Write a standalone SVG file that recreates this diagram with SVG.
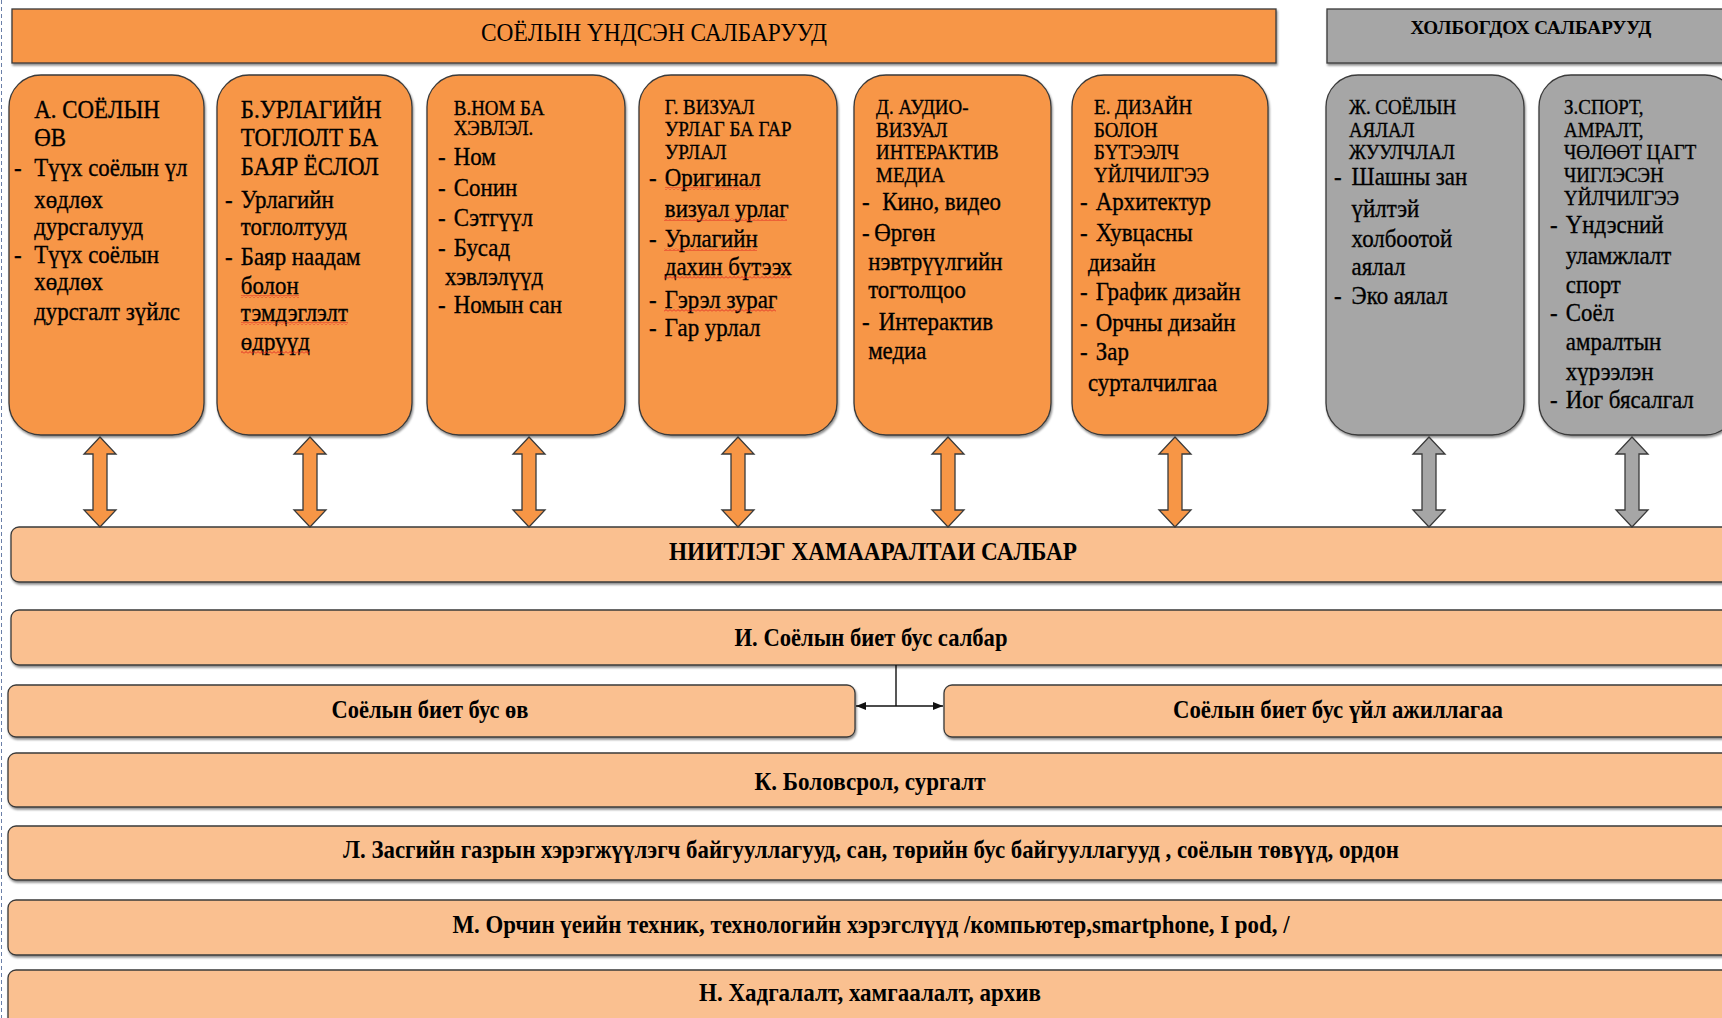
<svg xmlns="http://www.w3.org/2000/svg" width="1722" height="1018" viewBox="0 0 1722 1018">
<style>
.o{fill:#F79646;stroke:#3a3a3a;stroke-width:1.3}
.g{fill:#A6A6A6;stroke:#3a3a3a;stroke-width:1.3}
.l{fill:#FAC090;stroke:#3a3a3a;stroke-width:1.3}
text{font-family:"Liberation Serif","Times New Roman",serif;fill:#000}
.t text{stroke:#000;stroke-width:0.35}
.t{font-size:26px}
.s{font-size:21.5px}
.b{font-weight:bold;font-size:25px;text-anchor:middle}
.sq{fill:url(#sq)}
.ln{stroke:#111;stroke-width:1.4;fill:none}
</style>
<defs>
<filter id="sh" x="-5%" y="-20%" width="110%" height="150%">
<feDropShadow dx="1" dy="2" stdDeviation="1" flood-color="#000" flood-opacity="0.45"/>
</filter>
<pattern id="sq" width="4" height="3" patternUnits="userSpaceOnUse">
<path d="M0,2.5 L2,0.5 L4,2.5" fill="none" stroke="#e02020" stroke-width="0.9"/>
</pattern>
<marker id="ah" viewBox="0 0 10 8" refX="10" refY="4" markerWidth="10" markerHeight="8" markerUnits="userSpaceOnUse" orient="auto-start-reverse">
<path d="M0,0 L10,4 L0,8 z" fill="#111"/>
</marker>
</defs>
<rect width="1722" height="1018" fill="#fff"/>
<line x1="1.5" y1="0" x2="1.5" y2="1018" stroke="#6a7fa8" stroke-width="1" stroke-dasharray="4 3"/>

<g id="title">
<rect class="o" x="12" y="9" width="1264" height="54" stroke-width="1.8" filter="url(#sh)"/>
<text class="t" x="654" y="41" text-anchor="middle" textLength="346" lengthAdjust="spacingAndGlyphs">СОЁЛЫН ҮНДСЭН САЛБАРУУД</text>
</g>
<g id="related-header">
<rect class="g" x="1327" y="9" width="420" height="54" stroke-width="1.8" filter="url(#sh)"/>
<text x="1531" y="34" text-anchor="middle" font-size="19" font-weight="bold" textLength="241" lengthAdjust="spacingAndGlyphs">ХОЛБОГДОХ САЛБАРУУД</text>
</g>

<g id="node-a">
<rect class="o" x="9" y="75" width="195" height="360" rx="32" filter="url(#sh)"/>
<g class="t" transform="translate(14,0) scale(0.88,1)">
<text x="23" y="118">А. СОЁЛЫН</text>
<text x="23" y="146">ӨВ</text>
<text y="176"><tspan x="0">-</tspan><tspan x="23">Түүх соёлын үл</tspan></text>
<text x="23" y="208">хөдлөх</text>
<text x="23" y="235">дурсгалууд</text>
<text y="263"><tspan x="0">-</tspan><tspan x="23">Түүх соёлын</tspan></text>
<text x="23" y="290">хөдлөх</text>
<text x="23" y="320">дурсгалт зүйлс</text>
</g>
</g>

<g id="node-b">
<rect class="o" x="217" y="75" width="195" height="360" rx="32" filter="url(#sh)"/>
<g class="t" transform="translate(225,0) scale(0.88,1)">
<text x="18" y="118">Б.УРЛАГИЙН</text>
<text x="18" y="146">ТОГЛОЛТ БА</text>
<text x="18" y="175">БАЯР ЁСЛОЛ</text>
<text y="208"><tspan x="0">-</tspan><tspan x="18">Урлагийн</tspan></text>
<text x="18" y="235">тоглолтууд</text>
<text y="265"><tspan x="0">-</tspan><tspan x="18">Баяр наадам</tspan></text>
<text x="18" y="294">болон</text>
<text x="18" y="321">тэмдэглэлт</text>
<text x="18" y="350">өдрүүд</text>
</g>
<rect class="sq" x="241" y="295" width="58" height="3"/>
<rect class="sq" x="241" y="322" width="107" height="3"/>
<rect class="sq" x="241" y="351" width="69" height="3"/>
</g>

<g id="node-v">
<rect class="o" x="427" y="75" width="198" height="360" rx="32" filter="url(#sh)"/>
<g class="t" transform="translate(438,0) scale(0.88,1)">
<text class="s" x="18" y="115">В.НОМ БА</text>
<text class="s" x="18" y="135">ХЭВЛЭЛ.</text>
<text y="165"><tspan x="0">-</tspan><tspan x="18">Ном</tspan></text>
<text y="196"><tspan x="0">-</tspan><tspan x="18">Сонин</tspan></text>
<text y="226"><tspan x="0">-</tspan><tspan x="18">Сэтгүүл</tspan></text>
<text y="256"><tspan x="0">-</tspan><tspan x="18">Бусад</tspan></text>
<text x="8" y="285">хэвлэлүүд</text>
<text y="313"><tspan x="0">-</tspan><tspan x="18">Номын сан</tspan></text>
</g>
</g>

<g id="node-g">
<rect class="o" x="639" y="75" width="198" height="360" rx="32" filter="url(#sh)"/>
<g class="t" transform="translate(649,0) scale(0.88,1)">
<text class="s" x="18" y="114">Г. ВИЗУАЛ</text>
<text class="s" x="18" y="136">УРЛАГ БА ГАР</text>
<text class="s" x="18" y="159">УРЛАЛ</text>
<text y="186"><tspan x="0">-</tspan><tspan x="18">Оригинал</tspan></text>
<text x="18" y="217">визуал урлаг</text>
<text y="247"><tspan x="0">-</tspan><tspan x="18">Урлагийн</tspan></text>
<text x="18" y="275">дахин бүтээх</text>
<text y="308"><tspan x="0">-</tspan><tspan x="18">Гэрэл зураг</tspan></text>
<text y="336"><tspan x="0">-</tspan><tspan x="18">Гар урлал</tspan></text>
</g>
<rect class="sq" x="665" y="187" width="95" height="3"/>
<rect class="sq" x="664" y="218" width="123" height="3"/>
<rect class="sq" x="664" y="248" width="93" height="3"/>
<rect class="sq" x="664" y="276" width="126" height="3"/>
<rect class="sq" x="664" y="309" width="112" height="3"/>
</g>

<g id="node-d">
<rect class="o" x="854" y="75" width="197" height="360" rx="32" filter="url(#sh)"/>
<g class="t" transform="translate(862,0) scale(0.88,1)">
<text class="s" x="16" y="114">Д. АУДИО-</text>
<text class="s" x="16" y="137">ВИЗУАЛ</text>
<text class="s" x="16" y="159">ИНТЕРАКТИВ</text>
<text class="s" x="16" y="182">МЕДИА</text>
<text y="210"><tspan x="0">-</tspan><tspan x="23">Кино, видео</tspan></text>
<text y="241"><tspan x="0">-</tspan><tspan x="14">Өргөн</tspan></text>
<text x="7" y="270">нэвтрүүлгийн</text>
<text x="7" y="298">тогтолцоо</text>
<text y="330"><tspan x="0">-</tspan><tspan x="19">Интерактив</tspan></text>
<text x="7" y="359">медиа</text>
</g>
</g>

<g id="node-e">
<rect class="o" x="1072" y="75" width="196" height="360" rx="32" filter="url(#sh)"/>
<g class="t" transform="translate(1080,0) scale(0.88,1)">
<text class="s" x="16" y="114">Е. ДИЗАЙН</text>
<text class="s" x="16" y="137">БОЛОН</text>
<text class="s" x="16" y="159">БҮТЭЭЛЧ</text>
<text class="s" x="16" y="182">ҮЙЛЧИЛГЭЭ</text>
<text y="210"><tspan x="0">-</tspan><tspan x="18">Архитектур</tspan></text>
<text y="241"><tspan x="0">-</tspan><tspan x="18">Хувцасны</tspan></text>
<text x="9" y="271">дизайн</text>
<text y="300"><tspan x="0">-</tspan><tspan x="18">График дизайн</tspan></text>
<text y="331"><tspan x="0">-</tspan><tspan x="18">Орчны дизайн</tspan></text>
<text y="360"><tspan x="0">-</tspan><tspan x="18">Зар</tspan></text>
<text x="9" y="391">сурталчилгаа</text>
</g>
</g>

<g id="node-zh">
<rect class="g" x="1326" y="75" width="198" height="360" rx="32" filter="url(#sh)"/>
<g class="t" transform="translate(1334,0) scale(0.88,1)">
<text class="s" x="17" y="114">Ж. СОЁЛЫН</text>
<text class="s" x="17" y="137">АЯЛАЛ</text>
<text class="s" x="17" y="159">ЖУУЛЧЛАЛ</text>
<text y="185"><tspan x="0">-</tspan><tspan x="20">Шашны зан</tspan></text>
<text x="20" y="217">үйлтэй</text>
<text x="20" y="247">холбоотой</text>
<text x="20" y="275">аялал</text>
<text y="304"><tspan x="0">-</tspan><tspan x="20">Эко аялал</tspan></text>
</g>
</g>

<g id="node-z">
<rect class="g" x="1539" y="75" width="198" height="360" rx="32" filter="url(#sh)"/>
<g class="t" transform="translate(1550,0) scale(0.88,1)">
<text class="s" x="16" y="114">З.СПОРТ,</text>
<text class="s" x="16" y="137">АМРАЛТ,</text>
<text class="s" x="16" y="159">ЧӨЛӨӨТ ЦАГТ</text>
<text class="s" x="16" y="182">ЧИГЛЭСЭН</text>
<text class="s" x="16" y="205">ҮЙЛЧИЛГЭЭ</text>
<text y="233"><tspan x="0">-</tspan><tspan x="18">Үндэсний</tspan></text>
<text x="18" y="264">уламжлалт</text>
<text x="18" y="293">спорт</text>
<text y="321"><tspan x="0">-</tspan><tspan x="18">Соёл</tspan></text>
<text x="18" y="350">амралтын</text>
<text x="18" y="380">хүрээлэн</text>
<text y="408"><tspan x="0">-</tspan><tspan x="18">Иог бясалгал</tspan></text>
</g>
</g>

<g id="bar-common">
<rect class="l" x="11" y="527" width="1730" height="55" rx="8" filter="url(#sh)"/>
<text class="b" x="873" y="560" textLength="408" lengthAdjust="spacingAndGlyphs">НИИТЛЭГ ХАМААРАЛТАИ САЛБАР</text>
</g>
<g id="bar-i">
<rect class="l" x="11" y="610" width="1730" height="55" rx="8" filter="url(#sh)"/>
<text class="b" x="871" y="646" textLength="273" lengthAdjust="spacingAndGlyphs">И. Соёлын биет бус салбар</text>
</g>
<g id="bar-heritage">
<rect class="l" x="8" y="685" width="847" height="52" rx="8" filter="url(#sh)"/>
<text class="b" x="430" y="718" textLength="197" lengthAdjust="spacingAndGlyphs">Соёлын биет бус өв</text>
</g>
<g id="bar-activity">
<rect class="l" x="944" y="685" width="800" height="52" rx="8" filter="url(#sh)"/>
<text class="b" x="1338" y="718" textLength="330" lengthAdjust="spacingAndGlyphs">Соёлын биет бус үйл ажиллагаа</text>
</g>
<g id="bar-k">
<rect class="l" x="8" y="753" width="1740" height="54" rx="8" filter="url(#sh)"/>
<text class="b" x="870" y="790" textLength="231" lengthAdjust="spacingAndGlyphs">К. Боловсрол, сургалт</text>
</g>
<g id="bar-l">
<rect class="l" x="8" y="826" width="1740" height="54" rx="8" filter="url(#sh)"/>
<text class="b" x="871" y="858" textLength="1056" lengthAdjust="spacingAndGlyphs">Л. Засгийн газрын хэрэгжүүлэгч байгууллагууд, сан, төрийн бус байгууллагууд , соёлын төвүүд, ордон</text>
</g>
<g id="bar-m">
<rect class="l" x="8" y="900" width="1740" height="55" rx="8" filter="url(#sh)"/>
<text class="b" x="871" y="933" textLength="837" lengthAdjust="spacingAndGlyphs">М. Орчин үеийн техник, технологийн хэрэгслүүд /компьютер,smartphone, I pod, /</text>
</g>
<g id="bar-n">
<rect class="l" x="8" y="970" width="1740" height="70" rx="8" filter="url(#sh)"/>
<text class="b" x="870" y="1001" textLength="342" lengthAdjust="spacingAndGlyphs">Н. Хадгалалт, хамгаалалт, архив</text>
</g>

<g id="connectors">
<path class="o" d="M100,437 L116,454 L107,454 L107,510 L116,510 L100,527 L84,510 L93,510 L93,454 L84,454 Z"/>
<path class="o" d="M310,437 L326,454 L317,454 L317,510 L326,510 L310,527 L294,510 L303,510 L303,454 L294,454 Z"/>
<path class="o" d="M529,437 L545,454 L536,454 L536,510 L545,510 L529,527 L513,510 L522,510 L522,454 L513,454 Z"/>
<path class="o" d="M738,437 L754,454 L745,454 L745,510 L754,510 L738,527 L722,510 L731,510 L731,454 L722,454 Z"/>
<path class="o" d="M948,437 L964,454 L955,454 L955,510 L964,510 L948,527 L932,510 L941,510 L941,454 L932,454 Z"/>
<path class="o" d="M1175,437 L1191,454 L1182,454 L1182,510 L1191,510 L1175,527 L1159,510 L1168,510 L1168,454 L1159,454 Z"/>
<path class="g" d="M1429,437 L1445,454 L1436,454 L1436,510 L1445,510 L1429,527 L1413,510 L1422,510 L1422,454 L1413,454 Z"/>
<path class="g" d="M1632,437 L1648,454 L1639,454 L1639,510 L1648,510 L1632,527 L1616,510 L1625,510 L1625,454 L1616,454 Z"/>
<line class="ln" x1="896" y1="665" x2="896" y2="706"/>
<line class="ln" x1="856" y1="706" x2="943" y2="706" marker-start="url(#ah)" marker-end="url(#ah)"/>
</g>
</svg>
